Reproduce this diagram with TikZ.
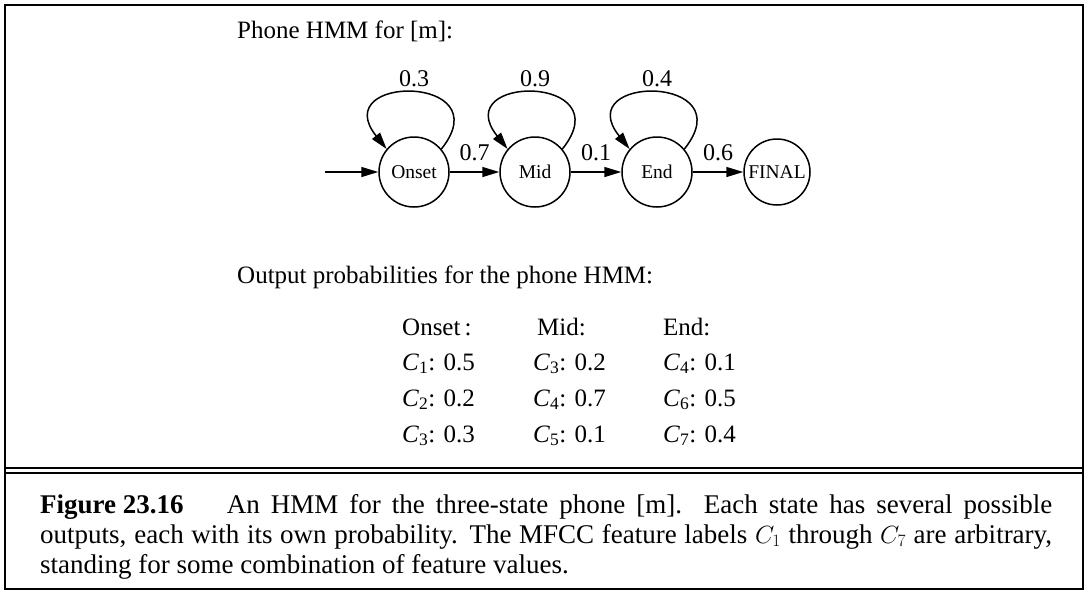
\documentclass[tikz,border=0pt]{standalone}
\usepackage{fontspec}
\setmainfont{Liberation Serif}
\usetikzlibrary{arrows.meta}
\newcommand\Csub[1]{\textit{C}\textsubscript{#1}}
\begin{document}
\begin{tikzpicture}[x=1pt,y=-1pt,
  state/.style={circle,draw,line width=1.5pt,minimum size=70pt,inner sep=0pt,font=\fontsize{19.5}{22}\selectfont},
  lbl/.style={font=\fontsize{24}{28}\selectfont,inner sep=0pt},
  txt/.style={anchor=base west,inner sep=0pt,font=\fontsize{25}{30}\selectfont},
  arr/.style={line width=1.5pt,-{Triangle[length=17pt,width=10pt]}},
  rulel/.style={line width=2pt}]
\useasboundingbox (0,0) rectangle (1089,592);
\draw[rulel] (5,5) rectangle (1083,589);
\draw[rulel] (5,468) -- (1084,468);
\draw[rulel] (5,473) -- (1084,473);

\node[txt] (t1) at (237,38) {Phone HMM for [m]:};

\node[state] (on) at (414,172) {Onset};
\node[state] (mi) at (535,172) {Mid};
\node[state] (en) at (657,172) {End};
\node[state,minimum size=66pt] (fi) at (777,172) {FINAL};
\coordinate (st) at (325,172);

\draw[arr] (st) -- (on);
\draw[arr] (on) -- node[lbl,above=10pt]{0.7} (mi);
\draw[arr] (mi) -- node[lbl,above=10pt]{0.1} (en);
\draw[arr] (en) -- node[lbl,above=10pt]{0.6} (fi);

\draw[arr] (on.40) .. controls +(60,-75) and +(-60,-75) .. node[lbl,above=5pt]{0.3} (on.140);
\draw[arr] (mi.40) .. controls +(60,-75) and +(-60,-75) .. node[lbl,above=5pt]{0.9} (mi.140);
\draw[arr] (en.40) .. controls +(60,-75) and +(-60,-75) .. node[lbl,above=5pt]{0.4} (en.140);

\node[txt] (t2) at (237,283) {Output probabilities for the phone HMM:};

\node[txt] (h1) at (402,335) {Onset\,:};
\node[txt] (h2) at (537,335) {Mid:};
\node[txt] (h3) at (663,335) {End:};

\node[txt] (a1) at (402,370) {\Csub{1}: 0.5};
\node[txt] (b1) at (533,370) {\Csub{3}: 0.2};
\node[txt] (c1) at (663,370) {\Csub{4}: 0.1};
\node[txt] (a2) at (402,406) {\Csub{2}: 0.2};
\node[txt] (b2) at (533,406) {\Csub{4}: 0.7};
\node[txt] (c2) at (663,406) {\Csub{6}: 0.5};
\node[txt] (a3) at (402,442) {\Csub{3}: 0.3};
\node[txt] (b3) at (533,442) {\Csub{5}: 0.1};
\node[txt] (c3) at (663,442) {\Csub{7}: 0.4};

\node[anchor=north west,inner sep=0pt,text width=1012pt,align=justify,
  font=\fontsize{27}{30}\selectfont] (cap) at (40,494)
  {\mbox{\textbf{Figure 23.16}}\hspace{1.6em}An HMM for the three-state phone [m].  Each state has several possible\linebreak
   outputs, each with its own probability. The MFCC feature labels $C_1$ through $C_7$ are arbitrary,\linebreak
   standing for some combination of feature values.};
\end{tikzpicture}
\end{document}
